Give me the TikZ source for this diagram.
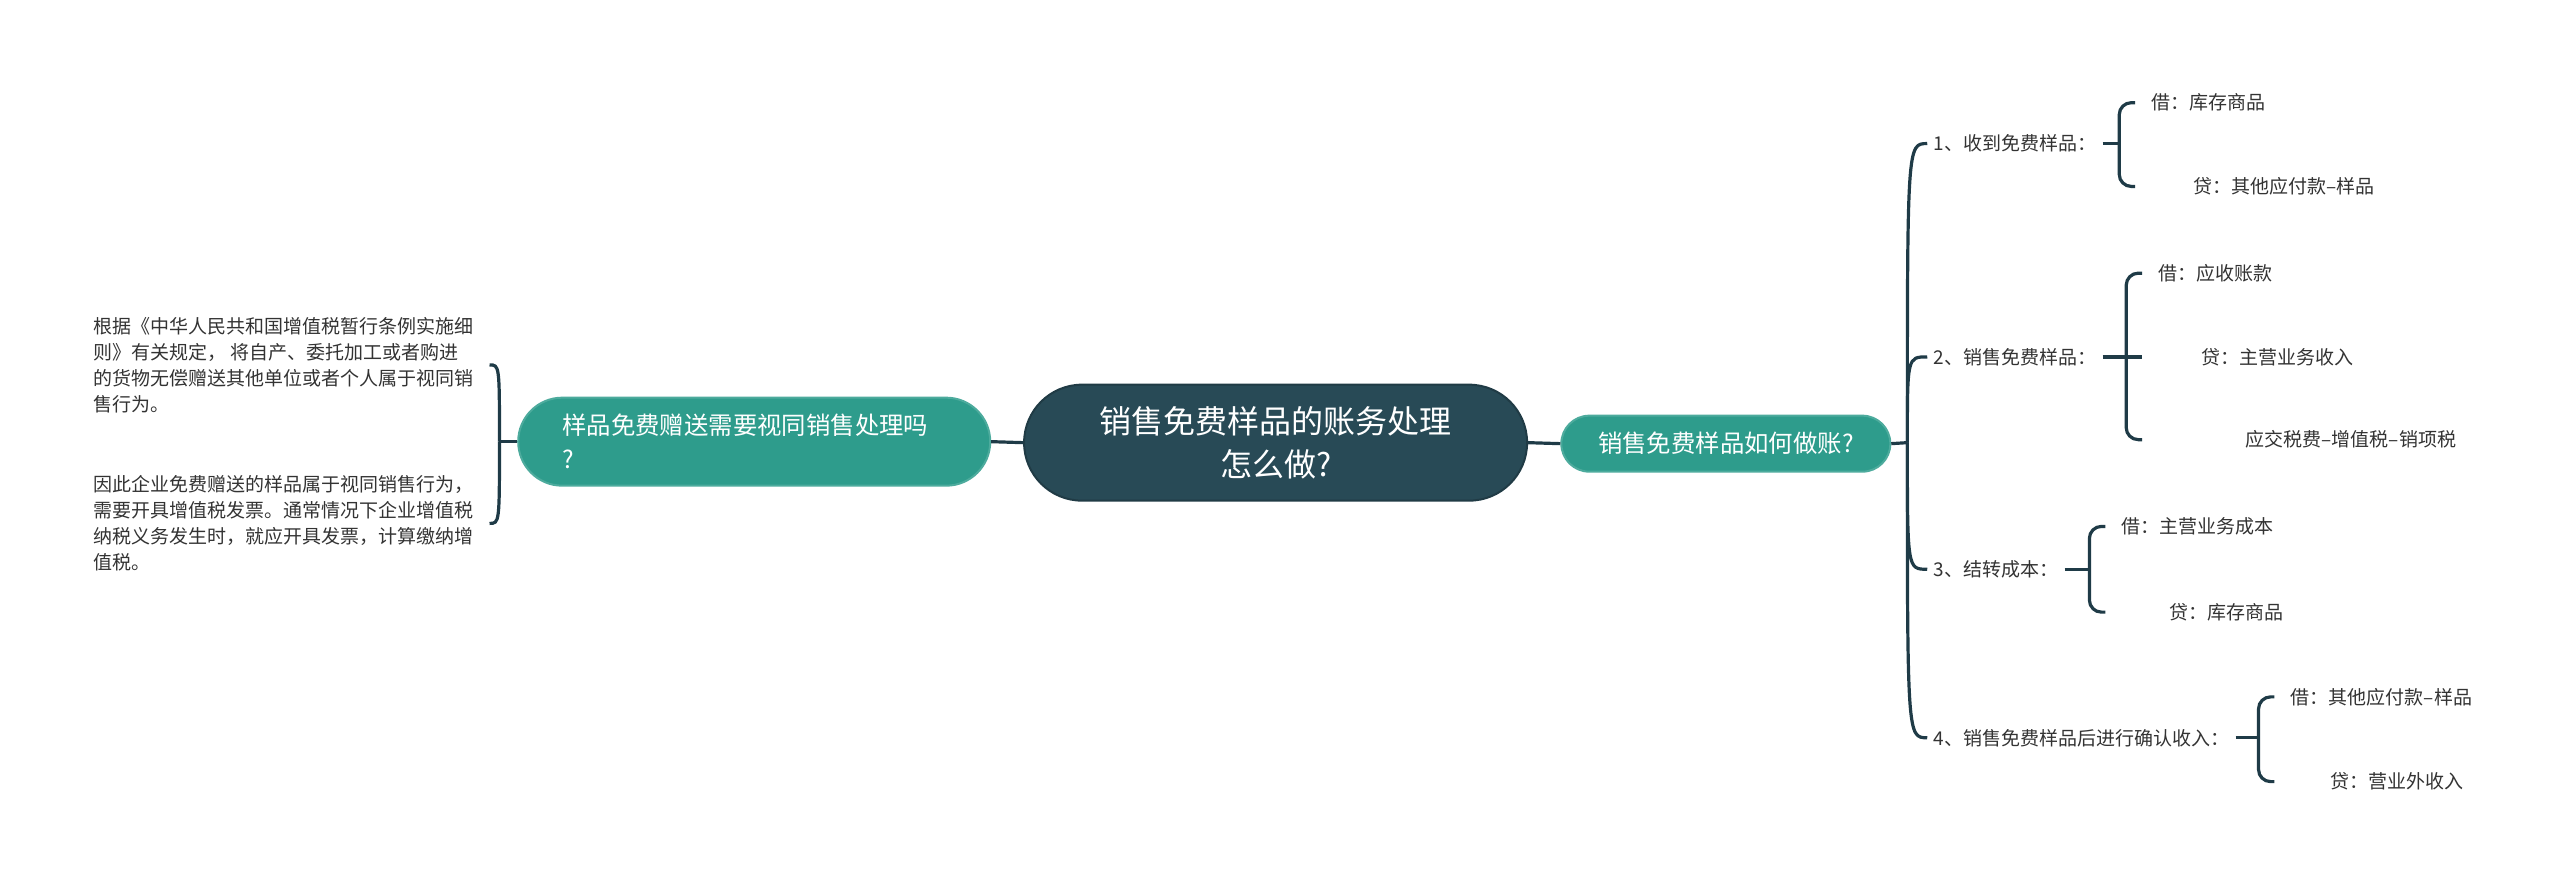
\documentclass[tikz,border=0pt]{standalone}
\usepackage{fontspec}
\setmainfont{Noto Sans CJK SC}
\definecolor{rootfill}{HTML}{284A56}
\definecolor{mainfill}{HTML}{2E9C8C}
\definecolor{linecol}{HTML}{1F3B47}
\definecolor{txtcol}{HTML}{333333}
\tikzset{
  root/.style={fill=rootfill, draw=rootfill!80!black, line width=1pt, text=white,
    rounded corners=29pt, minimum width=251.5pt, minimum height=58pt,
    font=\fontsize{16}{21.5}\selectfont, align=center, inner sep=0pt},
  topic/.style={fill=mainfill, draw=mainfill!85!white, line width=1pt, text=white,
    font=\fontsize{12.2}{17}\selectfont, inner ysep=0pt},
  leaf/.style={text=txtcol, font=\fontsize{9.5}{13}\selectfont, align=left},
  sub/.style={leaf, anchor=west, inner xsep=8pt},
  link/.style={draw=linecol, line width=1.6pt},
}
\begin{document}
\begin{tikzpicture}[x=0.5pt, y=-0.5pt]
        \useasboundingbox (0,0) rectangle (2560,883);
        \begin{scope}[xscale=0.995, yscale=0.997]

        % Define the topics
        \node[root] (root) at (1282,444) {销售免费样品的账务处理\\怎么做?};
        \node[topic, rounded corners=22pt, minimum width=236pt, minimum height=44pt,
          inner xsep=22pt, text width=192pt, align=left] (why) at (758,443)
          {样品免费赠送需要视同销售处理吗\\?};
        \node[topic, rounded corners=14pt, minimum width=164.5pt, minimum height=28pt] (how) at (1734.5,445)
          {销售免费样品如何做账?};

        % Left side
        \node[leaf, anchor=east, inner xsep=8pt] (why1) at (492,366)
          {根据《中华人民共和国增值税暂行条例实施细\\则》有关规定， 将自产、委托加工或者购进\\的货物无偿赠送其他单位或者个人属于视同销\\售行为。};
        \node[leaf, anchor=east, inner xsep=8pt] (why2) at (492,525)
          {因此企业免费赠送的样品属于视同销售行为，\\需要开具增值税发票。通常情况下企业增值税\\纳税义务发生时，就应开具发票，计算缴纳增\\值税。};

        % Right side: the four steps
        \node[leaf, anchor=west, inner xsep=3pt] (s1) at (1937,144) {1、收到免费样品：};
        \node[leaf, anchor=west, inner xsep=3pt] (s2) at (1937,358) {2、销售免费样品：};
        \node[leaf, anchor=west, inner xsep=3pt] (s3) at (1937,571) {3、结转成本：};
        \node[leaf, anchor=west, inner xsep=3pt] (s4) at (1937,740) {4、销售免费样品后进行确认收入：};

        % Entries
        \node[sub] (s1a) at (2146,103) {借：库存商品};
        \node[sub] (s1b) at (2146,187) {\hspace*{21pt}贷：其他应付款–样品};
        \node[sub] (s2a) at (2153,274) {借：应收账款};
        \node[sub] (s2b) at (2153,358) {\hspace*{21.5pt}贷：主营业务收入};
        \node[sub] (s2c) at (2153,441) {\hspace*{43.5pt}应交税费–增值税–销项税};
        \node[sub] (s3a) at (2116,528) {借：主营业务成本};
        \node[sub] (s3b) at (2116,614) {\hspace*{24pt}贷：库存商品};
        \node[sub] (s4a) at (2286,699) {借：其他应付款–样品};
        \node[sub] (s4b) at (2286,784) {\hspace*{20pt}贷：营业外收入};

        \coordinate (lk) at (502,443);
        \coordinate (rk) at (1917,444);
        \coordinate (k1) at (2130,144);
        \coordinate (k2) at (2137,358);
        \coordinate (k3) at (2100,571);
        \coordinate (k4) at (2270,740);

        % Draw connectors
        \draw[link] (root.west) -- (why.east);
        \draw[link] (root.east) -- (how.west);
        \draw[link] (why.west) -- (lk);
        \draw[link] (lk) .. controls (lk |- why1.east) and (lk |- why1.east) .. (why1.east);
        \draw[link] (lk) .. controls (lk |- why2.east) and (lk |- why2.east) .. (why2.east);
        \draw[link] (how.east) -- (rk);
        \foreach \n in {s1,s2,s3,s4}
          \draw[link] (rk) .. controls (rk |- \n.west) and (rk |- \n.west) .. (\n.west);

        % Draw brackets
        \draw[link] (s1.east) -- (k1);
        \draw[link, rounded corners=6pt] (s1a.west) -| (k1) |- (s1b.west);
        \draw[link] (s2.east) -- (s2b.west);
        \draw[link, rounded corners=6pt] (s2a.west) -| (k2) |- (s2c.west);
        \draw[link] (s3.east) -- (k3);
        \draw[link, rounded corners=6pt] (s3a.west) -| (k3) |- (s3b.west);
        \draw[link] (s4.east) -- (k4);
        \draw[link, rounded corners=6pt] (s4a.west) -| (k4) |- (s4b.west);
        \end{scope}
\end{tikzpicture}
\end{document}
